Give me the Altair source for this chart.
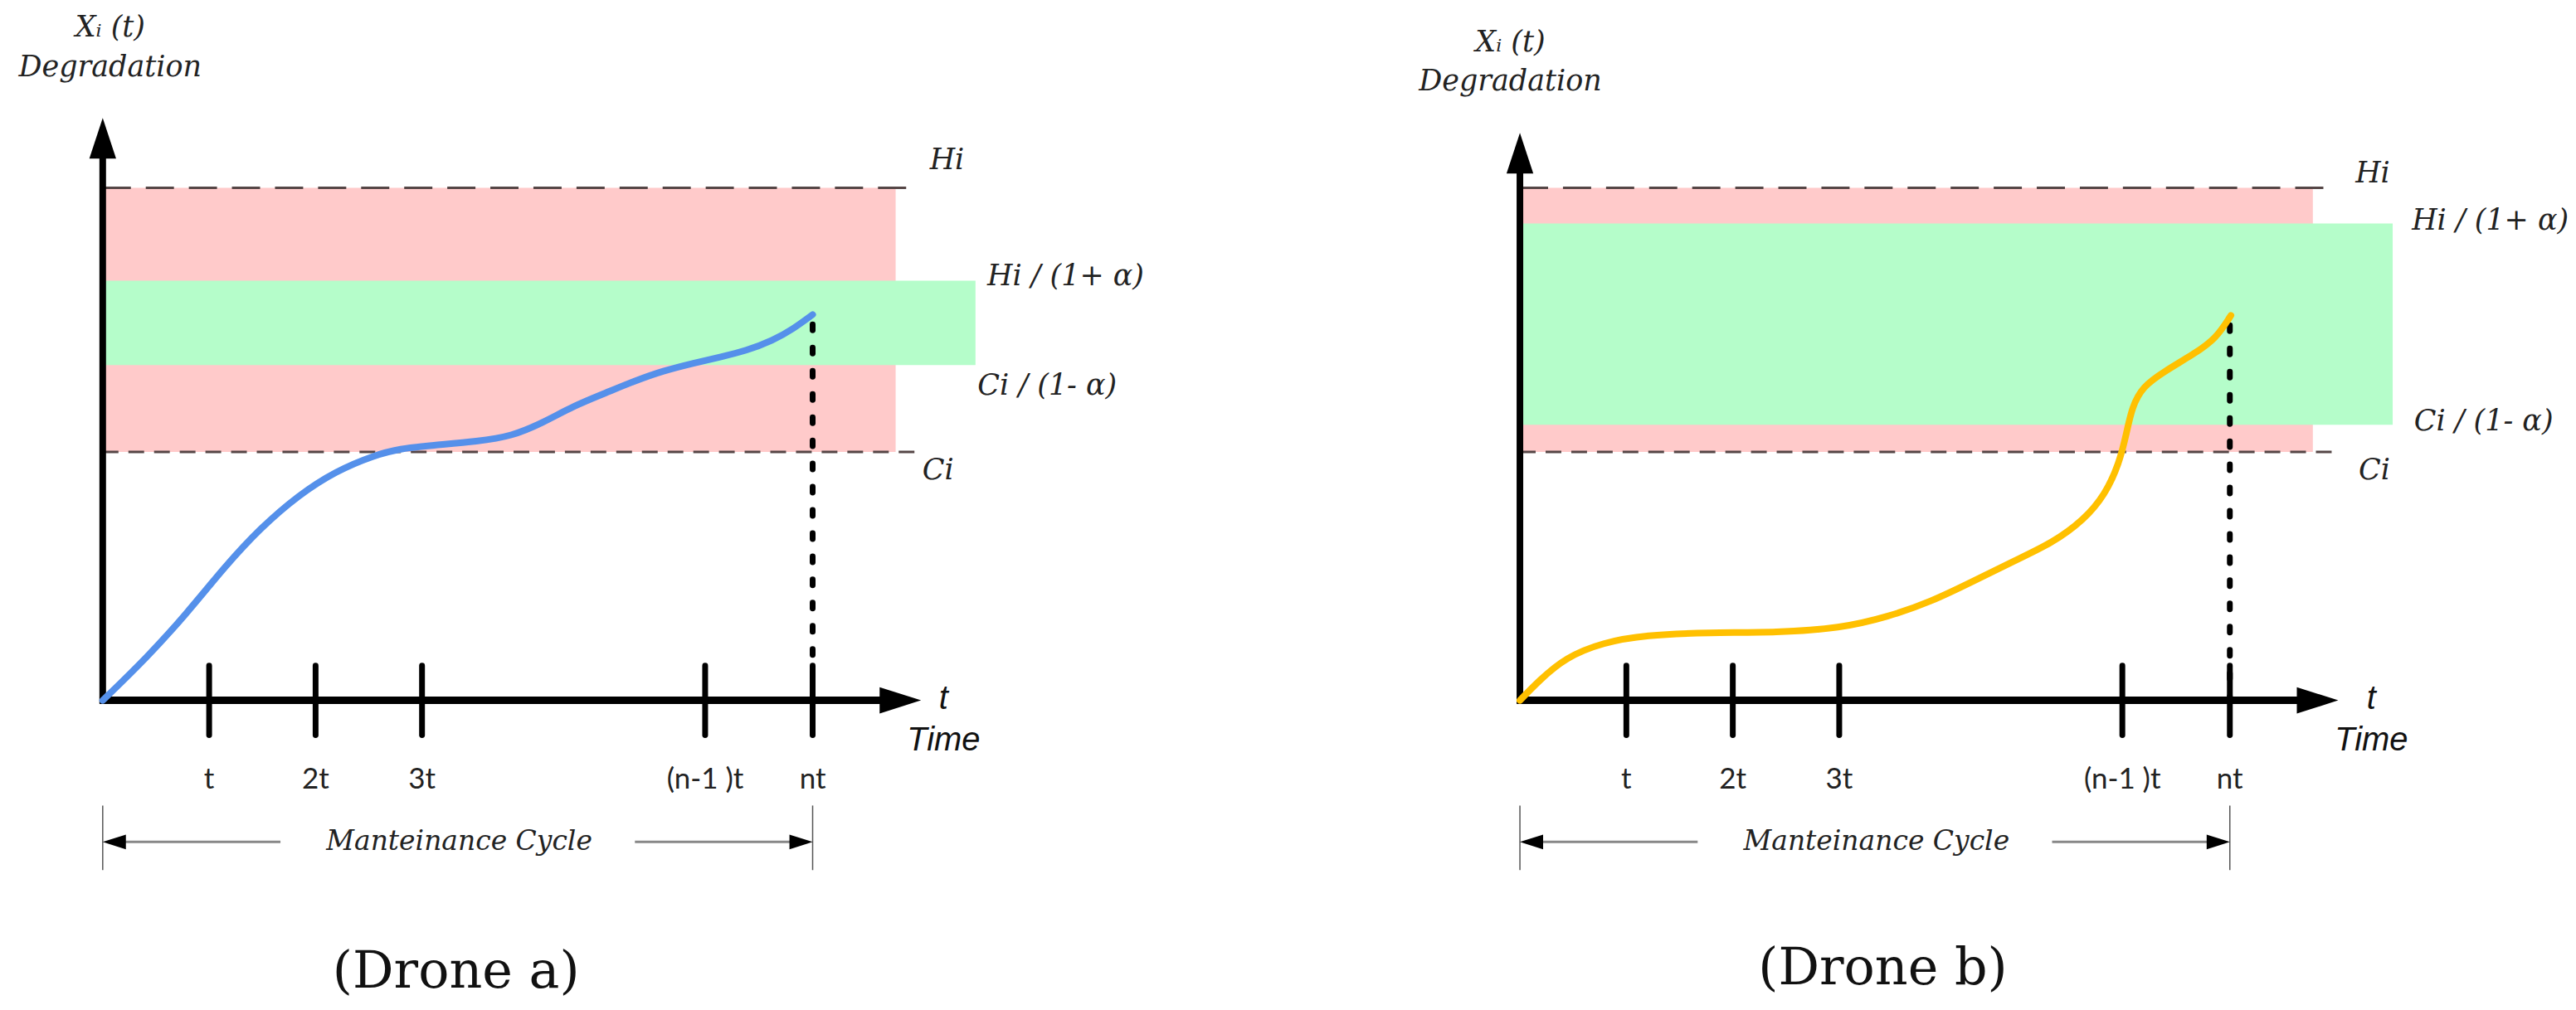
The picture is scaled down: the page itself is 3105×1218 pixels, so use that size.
import altair as alt
import pandas as pd

# ---------------- data (schematic units: x in multiples of the inspection step t) ----------------
XMIN, XMAX = -0.9027, 9.8366
YMIN, YMAX = -3.63, 8.37
W, H = 1380, 1200

tick_pos = [1, 2, 3, 5.66, 6.67]
tick_labels = ["t", "2t", "3t", "(n-1 )t", "nt"]
nt_pos = 6.67

ci_level = 3.0
hi_level = 6.19

# Drone a degradation curve
curve_a_x = [0.0, 0.41, 0.79, 1.15, 1.48, 1.84, 2.19, 2.55, 2.79, 3.09, 3.53, 3.84, 4.13, 4.43,
             4.72, 5.00, 5.26, 5.57, 5.81, 6.04, 6.30, 6.48, 6.67]
curve_a_y = [0.0, 0.51, 1.05, 1.62, 2.08, 2.48, 2.77, 2.96, 3.04, 3.08, 3.13, 3.19, 3.35, 3.56,
             3.71, 3.86, 3.98, 4.08, 4.15, 4.22, 4.35, 4.48, 4.66]

# Drone b degradation curve
curve_b_x = [0.0, 0.18, 0.43, 0.78, 1.18, 1.77, 2.42, 3.01, 3.46, 3.86, 4.26, 4.65, 5.00, 5.30,
             5.50, 5.63, 5.70, 5.75, 5.85, 6.05, 6.34, 6.54, 6.68]
curve_b_y = [0.0, 0.24, 0.52, 0.70, 0.79, 0.82, 0.82, 0.87, 1.01, 1.19, 1.44, 1.69, 1.90, 2.18,
             2.49, 2.86, 3.23, 3.54, 3.79, 3.97, 4.19, 4.37, 4.65]

# tolerance band (green) limits
green_a = [4.05, 5.07]
green_b = [3.33, 5.76]

band_labels = ["Hi", "Hi / (1+ α)", "Ci / (1- α)", "Ci"]
label_x_a = [7.77, 8.31, 8.22, 7.70]
label_y_a = [6.53, 5.12, 3.80, 2.78]
label_x_b = [7.85, 8.38, 8.40, 7.88]
label_y_b = [6.37, 5.80, 3.37, 2.78]

PINK = "#ffcaca"
GREEN = "#b5fdca"
DASHC = "#554646"
SERIF = "DejaVu Serif"


def X(f="x"):
    return alt.X(f"{f}:Q", scale=alt.Scale(domain=[XMIN, XMAX], nice=False, zero=False), axis=None)


def Y(f="y"):
    return alt.Y(f"{f}:Q", scale=alt.Scale(domain=[YMIN, YMAX], nice=False, zero=False), axis=None)


def panel(cx, cy, color, green, lx, ly, title, arrow_c, yline_top, ylab_y, time_x, title_x, title_y):
    layers = []
    # bands
    layers.append(alt.Chart(pd.DataFrame({"x": [0.0], "x2": [7.45], "y": [ci_level], "y2": [hi_level]}))
                  .mark_rect(color=PINK).encode(x=X(), x2="x2:Q", y=Y(), y2="y2:Q"))
    layers.append(alt.Chart(pd.DataFrame({"x": [0.0], "x2": [8.2], "y": [green[0]], "y2": [green[1]]}))
                  .mark_rect(color=GREEN).encode(x=X(), x2="x2:Q", y=Y(), y2="y2:Q"))
    # threshold lines
    layers.append(alt.Chart(pd.DataFrame({"x": [0.0], "x2": [7.58], "y": [hi_level]}))
                  .mark_rule(color=DASHC, strokeWidth=3, strokeDash=[34, 18])
                  .encode(x=X(), x2="x2:Q", y=Y()))
    layers.append(alt.Chart(pd.DataFrame({"x": [0.0], "x2": [7.65], "y": [ci_level]}))
                  .mark_rule(color=DASHC, strokeWidth=3, strokeDash=[19, 12])
                  .encode(x=X(), x2="x2:Q", y=Y()))
    # axes
    layers.append(alt.Chart(pd.DataFrame({"x": [0.0], "y": [-0.04], "y2": [yline_top]}))
                  .mark_rule(color="black", strokeWidth=8).encode(x=X(), y=Y(), y2="y2:Q"))
    layers.append(alt.Chart(pd.DataFrame({"x": [-0.03], "x2": [7.36], "y": [0.0]}))
                  .mark_rule(color="black", strokeWidth=9).encode(x=X(), x2="x2:Q", y=Y()))
    layers.append(alt.Chart(pd.DataFrame({"x": [0.0], "y": [arrow_c]}))
                  .mark_point(shape="M0,-1L0.66,1L-0.66,1Z", size=2400, filled=True, color="black",
                              opacity=1, strokeWidth=0).encode(x=X(), y=Y()))
    layers.append(alt.Chart(pd.DataFrame({"x": [7.494], "y": [0.0]}))
                  .mark_point(shape="M1,0L-1,-0.64L-1,0.64Z", size=2500, filled=True, color="black",
                              opacity=1, strokeWidth=0).encode(x=X(), y=Y()))
    # ticks
    layers.append(alt.Chart(pd.DataFrame({"x": tick_pos, "y": [-0.42] * 5, "y2": [0.42] * 5}))
                  .mark_rule(color="black", strokeWidth=7, strokeCap="round")
                  .encode(x=X(), y=Y(), y2="y2:Q"))
    layers.append(alt.Chart(pd.DataFrame({"x": tick_pos, "y": [-0.96] * 5, "label": tick_labels}))
                  .mark_text(font="Lato", fontSize=35, color="#222", baseline="middle", align="center")
                  .encode(x=X(), y=Y(), text="label:N"))
    # vertical dashed line at nt
    layers.append(alt.Chart(pd.DataFrame({"x": [nt_pos], "y": [cy[-1] - 0.12], "y2": [0.0]}))
                  .mark_rule(color="black", strokeWidth=7, strokeCap="round", strokeDash=[7, 21])
                  .encode(x=X(), y=Y(), y2="y2:Q"))
    # maintenance cycle dimension
    layers.append(alt.Chart(pd.DataFrame({"x": [0.0, nt_pos], "y": [-1.27, -1.27], "y2": [-2.05, -2.05]}))
                  .mark_rule(color="#555", strokeWidth=1.5).encode(x=X(), y=Y(), y2="y2:Q"))
    layers.append(alt.Chart(pd.DataFrame({"x": [0.05, 5.0], "x2": [1.67, nt_pos - 0.1], "y": [-1.71, -1.71]}))
                  .mark_rule(color="#888", strokeWidth=3).encode(x=X(), x2="x2:Q", y=Y()))
    layers.append(alt.Chart(pd.DataFrame({"x": [0.109], "y": [-1.71]}))
                  .mark_point(shape="M-1,0L1,-0.64L1,0.64Z", size=784, filled=True, color="black",
                              opacity=1, strokeWidth=0).encode(x=X(), y=Y()))
    layers.append(alt.Chart(pd.DataFrame({"x": [nt_pos - 0.109], "y": [-1.71]}))
                  .mark_point(shape="M1,0L-1,-0.64L-1,0.64Z", size=784, filled=True, color="black",
                              opacity=1, strokeWidth=0).encode(x=X(), y=Y()))
    layers.append(alt.Chart(pd.DataFrame({"x": [3.35], "y": [-1.71], "label": ["Manteinance Cycle"]}))
                  .mark_text(font=SERIF, fontStyle="italic", fontSize=33, color="#222", baseline="middle")
                  .encode(x=X(), y=Y(), text="label:N"))
    # curve
    layers.append(alt.Chart(pd.DataFrame({"x": cx, "y": cy}))
                  .mark_line(color=color, strokeWidth=8, interpolate="basis", strokeCap="round")
                  .encode(x=X(), y=Y()))
    # band labels
    layers.append(alt.Chart(pd.DataFrame({"x": lx, "y": ly, "label": band_labels}))
                  .mark_text(font=SERIF, fontStyle="italic", fontSize=35, color="#222", align="left",
                             baseline="middle")
                  .encode(x=X(), y=Y(), text="label:N"))
    # axis titles
    layers.append(alt.Chart(pd.DataFrame({"x": [ylab_y[0]] * 2, "y": ylab_y[1:], "label": ["Xᵢ (t)", "Degradation"]}))
                  .mark_text(font=SERIF, fontStyle="italic", fontSize=35, color="#222", baseline="middle")
                  .encode(x=X(), y=Y(), text="label:N"))
    layers.append(alt.Chart(pd.DataFrame({"x": [time_x, time_x], "y": [0.02, -0.48], "label": ["t", "Time"]}))
                  .mark_text(font="Liberation Sans", fontStyle="italic", fontSize=40, color="#111",
                             baseline="middle")
                  .encode(x=X(), y=Y(), text="label:N"))
    # panel title
    layers.append(alt.Chart(pd.DataFrame({"x": [title_x], "y": [title_y], "label": [title]}))
                  .mark_text(font=SERIF, fontSize=62, color="#111", baseline="middle")
                  .encode(x=X(), y=Y(), text="label:N"))
    return alt.layer(*layers).properties(width=W, height=H)


pa = panel(curve_a_x, curve_a_y, "#5590ea", green_a, label_x_a, label_y_a, "(Drone a)",
           6.79, 6.6, [0.07, 8.13, 7.65], 7.9, 3.32, -3.28)
pb = panel(curve_b_x, curve_b_y, "#ffc000", green_b, label_x_b, label_y_b, "(Drone b)",
           6.61, 6.42, [-0.09, 7.95, 7.48], 8.0, 3.41, -3.24)

chart = (alt.hconcat(pa, pb, spacing=324)
         .properties(padding=0, background="white")
         .configure_view(stroke=None))

chart.save("out.html", embed_options={"renderer": "svg", "actions": False})
